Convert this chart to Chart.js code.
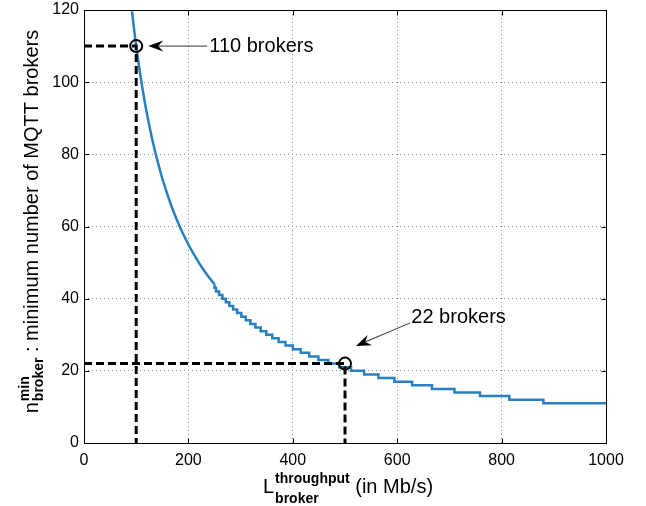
<!DOCTYPE html>
<html>
<head>
<meta charset="utf-8">
<script src="https://cdn.jsdelivr.net/npm/chart.js@4.4.1/dist/chart.umd.min.js"></script>
<style>
  html, body { margin: 0; padding: 0; background: #fff; }
  #wrap { width: 646px; height: 506px; }
</style>
</head>
<body>
<div id="wrap"><canvas id="chart" width="646" height="506"></canvas></div>
<script>
// Steep part of the curve (steps too small to see)
const smoothL = [92, 94, 96, 98, 100, 103, 106, 110, 114, 118, 122, 126, 130, 135, 140, 145, 150, 155,
  160, 165, 170, 175, 180, 190, 200, 210, 220, 230, 240, 250];
const smoothN = [119.6, 117.0, 114.6, 112.2, 110, 106.8, 103.8, 100, 96.5, 93.2, 90.2, 87.3, 84.6, 81.5,
  78.6, 75.9, 73.3, 71.0, 68.8, 66.7, 64.7, 62.9, 61.1, 57.9, 55, 52.4, 50, 47.8, 45.8, 44];

// Visible staircase: throughput where each level starts, and the level
const stepL = [250, 252.9, 258.8, 265.1, 271.6, 278.5, 285.7, 293.3, 301.4, 309.9, 318.8, 328.4, 338.5,
  349.2, 360.7, 372.9, 386.0, 400.0, 415.1, 431.4, 449.0, 468.1, 488.9, 511.6, 536.6, 564.1,
  594.6, 628.6, 666.7, 709.7, 758.6, 814.8, 880.0, 956.5, 1000];
const stepN = [44, 43, 42, 41, 40, 39, 38, 37, 36, 35, 34, 33, 32, 31, 30, 29, 28, 27, 26, 25, 24, 23,
  22, 21, 20, 19, 18, 17, 16, 15, 14, 13, 12, 11, 11];

// Highlighted points and their guide lines
const markL = [100, 500];
const markN = [110, 22];
const markText = ['110 brokers', '22 brokers'];
const guide1L = [0, 100, 100];
const guide1N = [110, 110, 0];
const guide2L = [0, 500, 500];
const guide2N = [22, 22, 0];

const xTicks = [0, 200, 400, 600, 800, 1000];
const yTicks = [0, 20, 40, 60, 80, 100, 120];

const LINE_BLUE = 'rgb(40,128,192)';
const FONT = '"Liberation Sans", Arial, sans-serif';

const pts = (xs, ys) => xs.map((v, i) => ({ x: v, y: ys[i] }));

function drawArrow(ctx, x1, y1, x2, y2) {
  const a = Math.atan2(y2 - y1, x2 - x1);
  const len = Math.hypot(x2 - x1, y2 - y1);
  ctx.save();
  ctx.translate(x2, y2);
  ctx.rotate(a);
  ctx.strokeStyle = '#333';
  ctx.lineWidth = 1;
  ctx.beginPath();
  ctx.moveTo(-len, 0);
  ctx.lineTo(-8, 0);
  ctx.stroke();
  ctx.fillStyle = '#000';
  ctx.beginPath();
  ctx.moveTo(0, 0);
  ctx.lineTo(-15, -5.5);
  ctx.lineTo(-10, 0);
  ctx.lineTo(-15, 5.5);
  ctx.closePath();
  ctx.fill();
  ctx.restore();
}

// Text with a superscript and subscript stacked after a base letter,
// drawn along +x centred on 0 (caller sets up translation/rotation)
function drawScripted(ctx, base, sup, sub, rest, supDy, subDy) {
  ctx.font = '20px ' + FONT;
  const wBase = ctx.measureText(base).width;
  const wRest = ctx.measureText(rest).width;
  ctx.font = 'bold 14px ' + FONT;
  const wSup = ctx.measureText(sup).width;
  const wSub = ctx.measureText(sub).width;
  const total = wBase + 1 + Math.max(wSup, wSub) + wRest;
  let u = -total / 2;
  ctx.fillStyle = '#000';
  ctx.textBaseline = 'alphabetic';
  ctx.textAlign = 'left';
  ctx.font = '20px ' + FONT;
  ctx.fillText(base, u, 0);
  u += wBase + 1;
  ctx.font = 'bold 14px ' + FONT;
  ctx.fillText(sup, u, supDy);
  ctx.fillText(sub, u, subDy);
  u += Math.max(wSup, wSub);
  ctx.font = '20px ' + FONT;
  ctx.fillText(rest, u, 0);
}

const matlabLook = {
  id: 'matlabLook',
  beforeDraw(chart) {
    const ctx = chart.ctx;
    ctx.save();
    ctx.fillStyle = '#fff';
    ctx.fillRect(0, 0, chart.width, chart.height);
    ctx.restore();
  },
  afterDatasetsDraw(chart) {
    const { ctx, scales: { x, y } } = chart;
    // arrows + labels, placed in data units
    const notes = [
      { tail: [236, 110], tip: [123, 110], text: [240, 110] },
      { tail: [625, 33.3], tip: [521, 26.9], text: [627, 34.8] },
    ];
    notes.forEach((n, i) => {
      drawArrow(ctx, x.getPixelForValue(n.tail[0]), y.getPixelForValue(n.tail[1]),
        x.getPixelForValue(n.tip[0]), y.getPixelForValue(n.tip[1]));
      ctx.save();
      ctx.fillStyle = '#000';
      ctx.font = '20px ' + FONT;
      ctx.textAlign = 'left';
      ctx.textBaseline = 'middle';
      ctx.fillText(markText[i], x.getPixelForValue(n.text[0]), y.getPixelForValue(n.text[1]));
      ctx.restore();
    });
  },
  afterDraw(chart) {
    const { ctx, chartArea: { left, right, top, bottom }, scales: { x, y } } = chart;
    ctx.save();
    ctx.strokeStyle = '#000';
    ctx.lineWidth = 1;
    const L = Math.round(left) + 0.5, R = Math.round(right) + 0.5;
    const T = Math.round(top) + 0.5, B = Math.round(bottom) + 0.5;
    ctx.strokeRect(L, T, R - L, B - T);
    ctx.beginPath();
    xTicks.forEach(v => {
      const px = Math.round(x.getPixelForValue(v)) + 0.5;
      ctx.moveTo(px, B); ctx.lineTo(px, B - 5);
      ctx.moveTo(px, T); ctx.lineTo(px, T + 5);
    });
    yTicks.forEach(v => {
      const py = Math.round(y.getPixelForValue(v)) + 0.5;
      ctx.moveTo(L, py); ctx.lineTo(L + 5, py);
      ctx.moveTo(R, py); ctx.lineTo(R - 5, py);
    });
    ctx.stroke();
    ctx.restore();

    // x axis title
    ctx.save();
    ctx.translate((left + right) / 2 + 3, 493);
    drawScripted(ctx, 'L', 'throughput', 'broker', ' (in Mb/s)', -10, 10);
    ctx.restore();

    // y axis title
    ctx.save();
    ctx.translate(38, (top + bottom) / 2 - 5);
    ctx.rotate(-Math.PI / 2);
    drawScripted(ctx, 'n', 'min', 'broker', ' : minimum number of MQTT brokers', -9.5, 5);
    ctx.restore();
  },
};

new Chart(document.getElementById('chart'), {
  type: 'line',
  data: {
    datasets: [
      {
        data: pts(markL, markN),
        showLine: false,
        pointStyle: 'circle',
        pointRadius: 6,
        pointBorderWidth: 2,
        pointBorderColor: '#000',
        pointBackgroundColor: 'rgba(0,0,0,0)',
        order: 0,
      },
      {
        data: pts(guide1L, guide1N),
        borderColor: '#000',
        borderWidth: 3,
        borderDash: [8, 4],
        pointRadius: 0,
        order: 1,
      },
      {
        data: pts(guide2L, guide2N),
        borderColor: '#000',
        borderWidth: 3,
        borderDash: [8, 4],
        pointRadius: 0,
        order: 1,
      },
      {
        data: pts(smoothL, smoothN),
        borderColor: LINE_BLUE,
        borderWidth: 2.5,
        pointRadius: 0,
        cubicInterpolationMode: 'monotone',
        order: 2,
      },
      {
        data: pts(stepL, stepN),
        borderColor: LINE_BLUE,
        borderWidth: 2.5,
        pointRadius: 0,
        stepped: 'after',
        order: 2,
      },
    ],
  },
  options: {
    responsive: false,
    animation: false,
    layout: { padding: { top: 10, right: 40, left: 0, bottom: 0 } },
    plugins: {
      legend: { display: false },
      tooltip: { enabled: false },
    },
    scales: {
      x: {
        type: 'linear',
        min: 0,
        max: 1000,
        afterFit(s) { s.height = 63; s.paddingLeft = 0; s.paddingRight = 0; },
        afterBuildTicks(s) { s.ticks = xTicks.map(v => ({ value: v })); },
        grid: { color: '#8a8a8a', lineWidth: 1, drawTicks: false },
        border: { display: false, dash: [1, 3] },
        ticks: { color: '#000', font: { size: 16, family: FONT }, padding: 8, maxRotation: 0,
          callback: v => String(v) },
      },
      y: {
        type: 'linear',
        min: 0,
        max: 120,
        afterFit(s) { s.width = 84; s.paddingTop = 0; s.paddingBottom = 0; },
        afterBuildTicks(s) { s.ticks = yTicks.map(v => ({ value: v })); },
        grid: { color: '#8a8a8a', lineWidth: 1, drawTicks: false },
        border: { display: false, dash: [1, 3] },
        ticks: { color: '#000', font: { size: 16, family: FONT }, padding: 5,
          callback: v => String(v) },
      },
    },
  },
  plugins: [matlabLook],
});
</script>
</body>
</html>
